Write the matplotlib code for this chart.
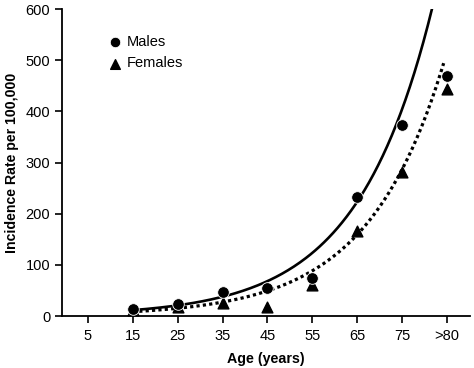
import numpy as np
import matplotlib
matplotlib.use("Agg")
import matplotlib.pyplot as plt

plt.rcParams['font.family'] = ['Liberation Sans', 'DejaVu Sans']

# data
ages = [15, 25, 35, 45, 55, 65, 75, 85]
tick_pos = [5, 15, 25, 35, 45, 55, 65, 75, 85]
tick_labels = ['5', '15', '25', '35', '45', '55', '65', '75', '>80']
males = [13, 24, 47, 55, 74, 232, 373, 469]
females = [11, 18, 26, 17, 60, 166, 282, 443]

# exponential trend lines: rate = a * exp(b * (age - 15)), drawn from x0 to x1
male_trend = (11.5, 0.0593, 15, 81.8)
female_trend = (8.4, 0.0588, 15, 84.3)

fig = plt.figure(figsize=(4.74, 3.68), dpi=100)
ax = fig.add_axes([0.1308, 0.1413, 0.861, 0.834])

for (a, b, x0, x1), ls, lw in [(male_trend, '-', 1.9), (female_trend, (0, (1, 1)), 2.3)]:
    xx = np.linspace(x0, x1, 200)
    ax.plot(xx, a * np.exp(b * (xx - 15)), color='black', linestyle=ls, linewidth=lw, zorder=2)

tri = ax.scatter(ages, females, marker='^', s=60, color='black', zorder=3, label='Females')
circ = ax.scatter(ages, males, marker='o', s=70, color='black', edgecolors='white',
                  linewidths=0.6, zorder=4, label='Males')

ax.set_xlim(-0.8, 90.2)
ax.set_ylim(0, 600)
ax.set_xticks(tick_pos)
ax.set_xticklabels(tick_labels)
ax.set_yticks([0, 100, 200, 300, 400, 500, 600])
ax.tick_params(direction='out', length=5, width=1.2, labelsize=10.5, colors='black')
ax.tick_params(axis='x', pad=4)

for s in ['top', 'right']:
    ax.spines[s].set_visible(False)
for s in ['left', 'bottom']:
    ax.spines[s].set_linewidth(1.3)

ax.set_xlabel('Age (years)', fontsize=10.3, fontweight='bold', labelpad=7)
ax.set_ylabel('Incidence Rate per 100,000', fontsize=10.2, fontweight='bold', labelpad=5)

ax.legend(handles=[circ, tri], loc='upper left', bbox_to_anchor=(0.095, 0.934), frameon=False,
          fontsize=10.5, handletextpad=0.15, labelspacing=0.5, borderaxespad=0,
          handlelength=1.2, markerscale=0.9)

fig.savefig('out.png', dpi=100)
